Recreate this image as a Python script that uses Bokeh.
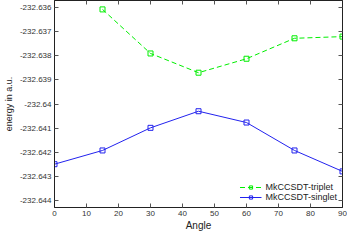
from bokeh.plotting import figure
from bokeh.models import Range1d, LinearAxis, FixedTicker, Legend, LegendItem
from bokeh.embed import file_html
from bokeh.resources import INLINE

angles_triplet = [15, 30, 45, 60, 75, 90]
energy_triplet = [-232.63607, -232.63790, -232.63870, -232.63812, -232.63727, -232.63720]
angles_singlet = [0, 15, 30, 45, 60, 75, 90]
energy_singlet = [-232.64250, -232.64193, -232.64099, -232.64030, -232.64077, -232.64193, -232.64280]

x_ticks = [0, 10, 20, 30, 40, 50, 60, 70, 80, 90]
y_ticks = [-232.636, -232.637, -232.638, -232.639, -232.640, -232.641, -232.642, -232.643, -232.644]
y_labels = {-232.636: "-232.636", -232.637: "-232.637", -232.638: "-232.638", -232.639: "-232.639",
            -232.640: "-232.64", -232.641: "-232.641", -232.642: "-232.642", -232.643: "-232.643",
            -232.644: "-232.644"}

FONT = "Liberation Sans"
GREEN = "#00ee00"
BLUE = "#2222ee"

p = figure(width=334, height=229, output_backend="svg", toolbar_location=None,
           x_range=Range1d(0, 90), y_range=Range1d(-232.6443, -232.6357),
           min_border_left=41, min_border_right=5, min_border_top=0, min_border_bottom=22)
p.frame_width = 288
p.frame_height = 207
p.grid.visible = False
p.outline_line_color = "#222222"
p.outline_line_width = 1

def style_axis(ax, labels=True):
    ax.major_tick_in = 4
    ax.major_tick_out = 0
    ax.minor_tick_in = 0
    ax.minor_tick_out = 0
    ax.axis_line_color = "#222222"
    ax.major_tick_line_color = "#555555"
    ax.major_label_text_font = FONT
    ax.major_label_text_font_size = "8px"
    ax.major_label_text_color = "#333333"
    ax.major_label_standoff = 3
    if not labels:
        ax.major_label_text_color = None
        ax.major_label_standoff = 0

p.xaxis.ticker = FixedTicker(ticks=x_ticks)
p.yaxis.ticker = FixedTicker(ticks=y_ticks)
p.yaxis.major_label_overrides = y_labels
for ax in p.xaxis + p.yaxis:
    style_axis(ax)
p.xaxis.axis_label = "Angle"
p.yaxis.axis_label = "energy in a.u."
for ax in p.xaxis + p.yaxis:
    ax.axis_label_text_font = FONT
    ax.axis_label_text_font_style = "normal"
    ax.axis_label_text_font_size = "10px"
    ax.axis_label_text_color = "#222222"
    ax.axis_label_standoff = 1
p.yaxis.axis_label_text_font_size = "9px"
p.yaxis.axis_label_standoff = 3

top = LinearAxis(ticker=FixedTicker(ticks=x_ticks))
style_axis(top, labels=False)
p.add_layout(top, "above")
right = LinearAxis(ticker=FixedTicker(ticks=y_ticks))
style_axis(right, labels=False)
p.add_layout(right, "right")

lt = p.line(angles_triplet, energy_triplet, line_color=GREEN, line_width=1, line_dash="5 3")
st = p.scatter(angles_triplet, energy_triplet, marker="square", size=5, fill_alpha=0,
               line_color=GREEN, line_width=1)
ls = p.line(angles_singlet, energy_singlet, line_color=BLUE, line_width=1)
ss = p.scatter(angles_singlet, energy_singlet, marker="square", size=5, fill_alpha=0,
               line_color=BLUE, line_width=1)

legend = Legend(items=[LegendItem(label="MkCCSDT-triplet", renderers=[lt, st]),
                       LegendItem(label="MkCCSDT-singlet", renderers=[ls, ss])],
                location="bottom_right", background_fill_alpha=0, border_line_alpha=0,
                label_text_font=FONT, label_text_font_size="9px", label_text_color="#222222",
                glyph_width=22, glyph_height=8, label_height=8, spacing=0, padding=2,
                margin=3, label_standoff=4)
p.add_layout(legend)

open("out.html", "w").write(file_html(p, INLINE))
